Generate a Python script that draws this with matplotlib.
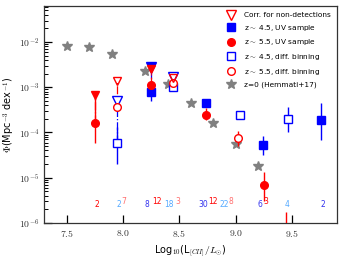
import matplotlib
matplotlib.use("Agg")
import matplotlib.pyplot as plt
from matplotlib.lines import Line2D
from matplotlib.ticker import FixedLocator, FuncFormatter, LogLocator, NullFormatter
import numpy as np

plt.rcParams['mathtext.fontset'] = 'cm'

# z=0 Hemmati+17
z0_x = [7.5, 7.7, 7.9, 8.2, 8.4, 8.6, 8.8, 9.0, 9.2]
z0_y = [8.1e-3, 7.8e-3, 5.4e-3, 2.3e-3, 1.17e-3, 4.4e-4, 1.6e-4, 5.7e-5, 1.85e-5]

# z~4.5 UV sample (filled blue squares)
b45_x = [8.246, 8.74, 9.24, 9.76]
b45_y = [7.8e-4, 4.4e-4, 5.4e-5, 1.9e-4]
b45_lo = [5.1e-4, 4.0e-4, 3.1e-5, 6.9e-5]
b45_hi = [9.0e-4, 4.9e-4, 8.5e-5, 4.4e-4]
b45_corr_x = [8.246]
b45_corr_y = [2.75e-3]

# z~5.5 UV sample (filled red circles)
r55_x = [7.75, 8.246, 8.74, 9.25, 9.45]
r55_y = [1.6e-4, 1.1e-3, 2.5e-4, 6.9e-6, 5.0e-7]
r55_lo = [5.8e-5, 1.0e-3, 1.9e-4, 3.1e-6, 2.0e-7]
r55_hi = [6.0e-4, 1.2e-3, 3.4e-4, 1.35e-5, 1.7e-6]
r55_corr_x = [7.75, 8.246]
r55_corr_y = [6.6e-4, 2.6e-3]

# z~4.5 diff. binning (open blue squares)
b45d_x = [7.944, 8.44, 9.04, 9.46]
b45d_y = [5.8e-5, 1.0e-3, 2.4e-4, 1.95e-4]
b45d_lo = [2.0e-5, 9.3e-4, 2.2e-4, 1.05e-4]
b45d_hi = [1.3e-4, 1.07e-3, 2.6e-4, 3.6e-4]
b45d_corr_x = [7.944, 8.44]
b45d_corr_y = [5.0e-4, 1.65e-3]

# z~5.5 diff. binning (open red circles)
r55d_x = [7.944, 8.44, 9.02]
r55d_y = [3.6e-4, 1.23e-3, 7.4e-5]
r55d_lo = [3.2e-4, 1.15e-3, 5.1e-5]
r55d_hi = [4.0e-4, 1.3e-3, 1.1e-4]
r55d_corr_x = [7.944, 8.44]
r55d_corr_y = [1.35e-3, 1.6e-3]

# number counts
cnt_b_x = [8.215, 8.715, 9.215, 9.77]
cnt_b = ['8', '30', '6', '2']
cnt_r_x = [7.77, 8.30, 8.80, 9.27]
cnt_r = ['2', '12', '12', '3']
cnt_lb_x = [7.965, 8.41, 8.90, 9.46]
cnt_lb = ['2', '18', '22', '4']
cnt_lr_x = [8.01, 8.49, 8.96]
cnt_lr = ['7', '3', '8']

BLUE = '#0000ff'
RED = '#ff0000'
LBLUE = '#55aaff'
LRED = '#ff7070'

fig = plt.figure(figsize=(3.44, 2.58), dpi=100)
ax = fig.add_axes([0.128, 0.136, 0.852, 0.841])
ax.set_yscale('log')

def errs(y, lo, hi):
    y = np.array(y); lo = np.array(lo); hi = np.array(hi)
    return [y - lo, hi - y]

# connecting dash-dot lines to corrected values
for xs, ys, cx, cy, col in [(b45_x, b45_y, b45_corr_x, b45_corr_y, BLUE),
                            (b45d_x, b45d_y, b45d_corr_x, b45d_corr_y, BLUE),
                            (r55_x, r55_y, r55_corr_x, r55_corr_y, RED),
                            (r55d_x, r55d_y, r55d_corr_x, r55d_corr_y, RED)]:
    for x0, y0 in zip(cx, cy):
        i = xs.index(x0)
        ax.plot([x0, x0], [ys[i], y0], color=col, lw=0.9, ls='-.', zorder=2)

ax.plot(z0_x, z0_y, ls='none', marker='*', color='gray', ms=7, zorder=3)

ax.errorbar(b45_x, b45_y, yerr=errs(b45_y, b45_lo, b45_hi), fmt='s', color=BLUE,
            ms=5.5, elinewidth=1, capsize=0, zorder=4)
ax.errorbar(b45d_x, b45d_y, yerr=errs(b45d_y, b45d_lo, b45d_hi), fmt='s', color=BLUE,
            mfc='white', mec=BLUE, ms=5.5, elinewidth=1, capsize=0, zorder=4)
ax.errorbar(r55_x, r55_y, yerr=errs(r55_y, r55_lo, r55_hi), fmt='o', color=RED,
            ms=5.5, elinewidth=1, capsize=0, zorder=5)
ax.errorbar(r55d_x, r55d_y, yerr=errs(r55d_y, r55d_lo, r55d_hi), fmt='o', color=RED,
            mfc='white', mec=RED, ms=5.5, elinewidth=1, capsize=0, zorder=5)

ax.plot(b45_corr_x, b45_corr_y, ls='none', marker='v', color=BLUE, ms=6.5, zorder=5)
ax.plot(r55_corr_x, r55_corr_y, ls='none', marker='v', color=RED, ms=6, zorder=6)
ax.plot(b45d_corr_x, b45d_corr_y, ls='none', marker='v', mfc='white', mec=BLUE, ms=6.5, zorder=5)
ax.plot(r55d_corr_x, r55d_corr_y, ls='none', marker='v', mfc='none', mec=RED, ms=6, zorder=6)

fs_c = 5.5
for x, t in zip(cnt_b_x, cnt_b):
    ax.text(x, 2.5e-6, t, color='#3333ee', fontsize=fs_c, ha='center', va='center')
for x, t in zip(cnt_lb_x, cnt_lb):
    ax.text(x, 2.5e-6, t, color=LBLUE, fontsize=fs_c, ha='center', va='center')
for x, t in zip(cnt_r_x, cnt_r):
    ax.text(x, 2.5e-6 if x < 7.8 else 3.0e-6, t, color=RED, fontsize=fs_c, ha='center', va='center')
for x, t in zip(cnt_lr_x, cnt_lr):
    ax.text(x, 3.0e-6, t, color=LRED, fontsize=fs_c, ha='center', va='center')

ax.set_xlim(7.3, 9.9)
ax.set_ylim(1e-6, 6.3e-2)
ax.xaxis.set_major_locator(FixedLocator([7.5, 8.0, 8.5, 9.0, 9.5]))
ax.xaxis.set_major_formatter(FuncFormatter(lambda v, p: r'$%.1f$' % v))
ax.yaxis.set_major_locator(FixedLocator([1e-6, 1e-5, 1e-4, 1e-3, 1e-2]))
ax.yaxis.set_major_formatter(FuncFormatter(lambda v, p: r'$10^{%d}$' % int(round(np.log10(v)))))
ax.yaxis.set_minor_locator(LogLocator(base=10, subs=np.arange(2, 10), numticks=20))
ax.yaxis.set_minor_formatter(NullFormatter())
ax.tick_params(axis='both', which='major', direction='in', length=6, width=0.9, labelsize=7, colors='black')
ax.tick_params(axis='y', which='minor', direction='in', length=3, width=0.7)
ax.tick_params(axis='both', labelcolor='#333333')
for s in ax.spines.values():
    s.set_linewidth(0.9)
    s.set_color('#333333')

ax.set_xlabel(r'Log$_{10}$(L$_{[CII]}/L_{\odot}$)', fontsize=7, labelpad=3)
ax.set_ylabel(r'$\Phi$(Mpc$^{-3}$ dex$^{-1}$)', fontsize=7, labelpad=1)

handles = [
    Line2D([], [], ls='none', marker='v', mfc='white', mec=RED, ms=6.5),
    Line2D([], [], ls='none', marker='s', color=BLUE, ms=5.5),
    Line2D([], [], ls='none', marker='o', color=RED, ms=5.5),
    Line2D([], [], ls='none', marker='s', mfc='white', mec=BLUE, ms=5.5),
    Line2D([], [], ls='none', marker='o', mfc='white', mec=RED, ms=5.5),
    Line2D([], [], ls='none', marker='*', color='gray', ms=7),
]
labels = ['Corr. for non-detections', r'z$\sim$ 4.5, UV sample', r'z$\sim$ 5.5, UV sample',
          r'z$\sim$ 4.5, diff. binning', r'z$\sim$ 5.5, diff. binning', 'z=0 (Hemmati+17)']
ax.legend(handles, labels, loc='upper right', frameon=False, fontsize=5.3,
          labelspacing=0.62, handletextpad=1.2, borderaxespad=0.45, handlelength=1.2)

fig.savefig('out.png', dpi=100)
